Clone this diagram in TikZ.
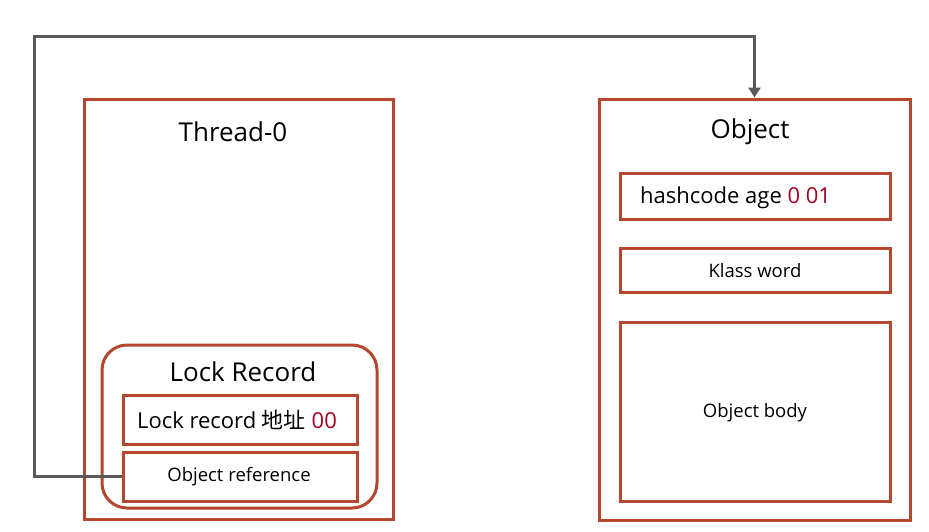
\documentclass[tikz,border=0pt]{standalone}
\usepackage{fontspec}
\setmainfont{Open Sans}
\newfontfamily\cjkfont{Noto Sans CJK SC}
\usetikzlibrary{arrows.meta}
\definecolor{boxred}{HTML}{B5472F}
\definecolor{txtred}{HTML}{A50021}
\definecolor{linegray}{HTML}{595959}
\tikzset{
  box/.style={draw=boxred, line width=3pt, rectangle, inner sep=0pt},
  lbl/.style={inner sep=0pt, text=black},
  big/.style={font=\fontsize{26}{30}\selectfont},
  mid/.style={font=\fontsize{22}{26}\selectfont},
  small/.style={font=\fontsize{18.5}{22}\selectfont},
  conn/.style={draw=linegray, line width=3pt, -{Triangle[length=10pt,width=12pt]}}
}
\begin{document}
\begin{tikzpicture}[x=1pt,y=-1pt]
\useasboundingbox[fill=white] (0,0) rectangle (929,531);
% left side
\node[box, minimum width=309pt, minimum height=420pt] (thread) at (238.5,309) {};
\node[lbl, big] (threadlbl) at (233,132) {Thread-0};
\node[box, rounded corners=25pt, minimum width=275pt, minimum height=163pt] (lr) at (239.5,426.5) {};
\node[lbl, big] (lrlbl) at (243,372) {Lock Record};
\node[box, minimum width=234pt, minimum height=49pt] (addr) at (240,419.5) {};
\node[lbl, mid] (addrlbl) at (237,420) {Lock record {\cjkfont 地址} \textcolor{txtred}{00}};
\node[box, minimum width=234pt, minimum height=49pt] (objref) at (240,476.5) {};
\node[lbl, small] (objreflbl) at (239,477) {Object reference};
% right side
\node[box, minimum width=311pt, minimum height=421pt] (obj) at (754.5,309.5) {};
\node[lbl, big] (objlbl) at (750,132) {Object};
\node[box, minimum width=270pt, minimum height=46pt] (hash) at (755,196) {};
\node[lbl, mid, anchor=west] (hashlbl) at (640,198) {hashcode age \textcolor{txtred}{0 01}};
\node[box, minimum width=270pt, minimum height=44pt] (klass) at (755,270) {};
\node[lbl, small] (klasslbl) at (755,271) {Klass word};
\node[box, minimum width=270pt, minimum height=179pt] (body) at (755,411.5) {};
\node[lbl, small] (bodylbl) at (755,413) {Object body};
% connector
\coordinate (c1) at (34,36);
\draw[conn] (objref.west) -| (c1) -| (obj.north);
\end{tikzpicture}
\end{document}
